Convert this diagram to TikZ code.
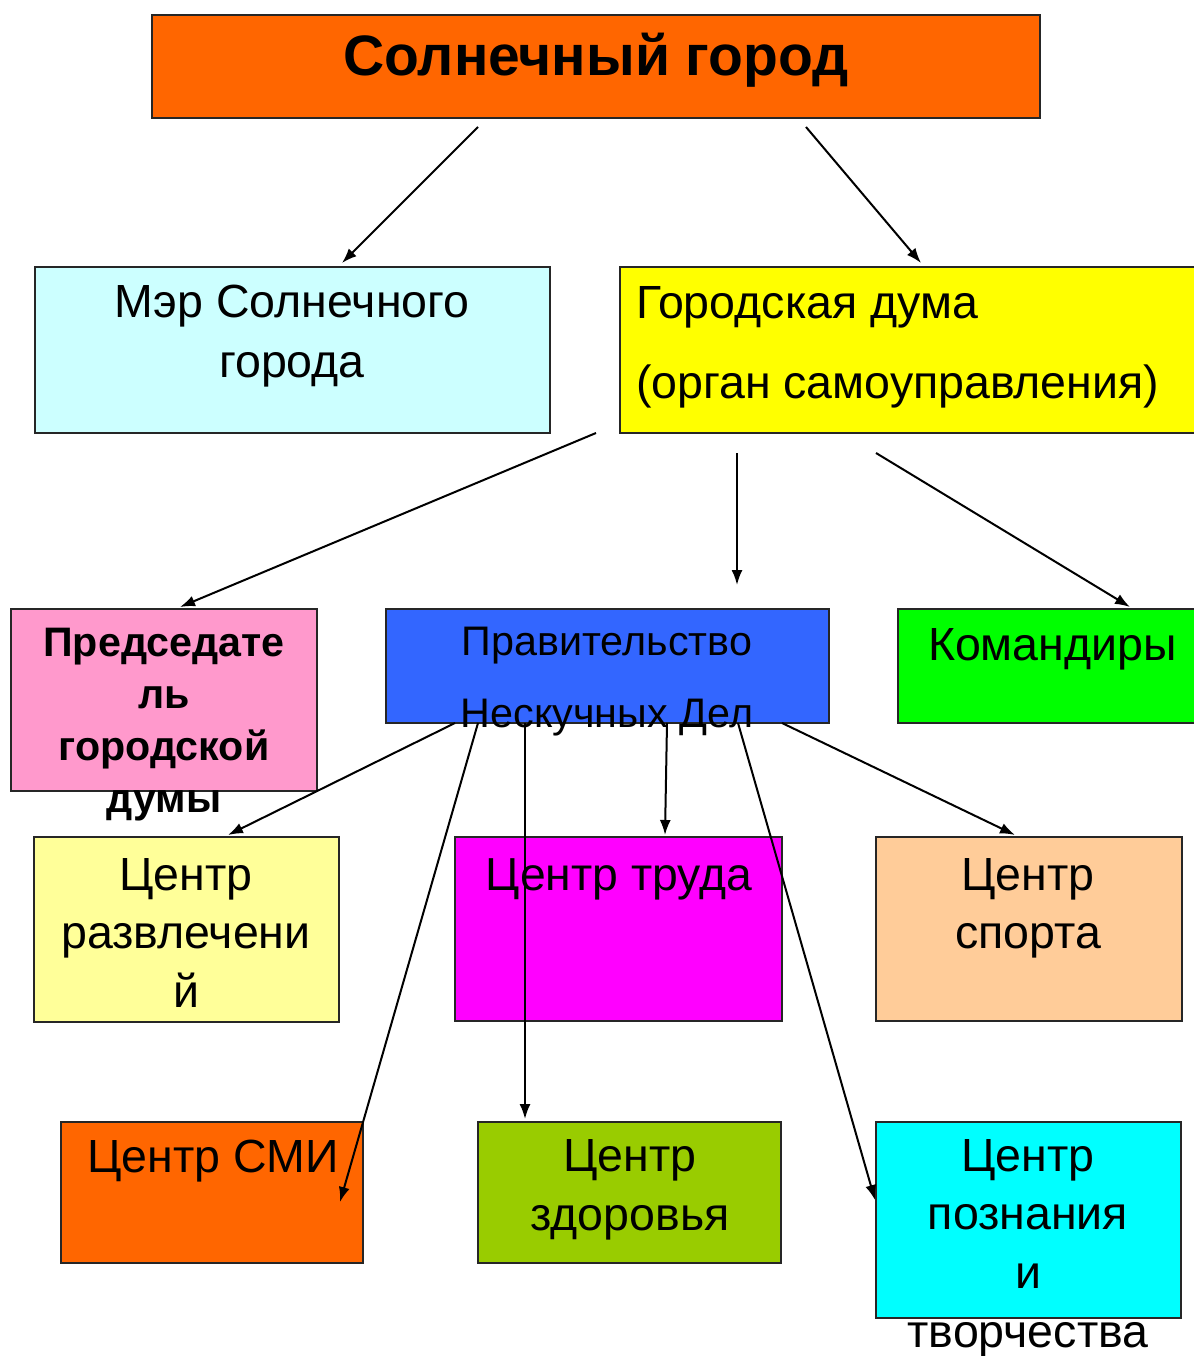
\documentclass[tikz,border=0pt]{standalone}
\usepackage{fontspec}
\setmainfont{Liberation Sans}
\usetikzlibrary{calc,arrows.meta}
\newcommand\mlines[4]{{\fontsize{#1}{#2}\selectfont\begin{tabular}[t]{@{}#3@{}}#4\end{tabular}}}
\definecolor{cTitle}{HTML}{FF6600}
\definecolor{cMayor}{HTML}{CCFFFF}
\definecolor{cDuma}{HTML}{FFFF00}
\definecolor{cPred}{HTML}{FF99CC}
\definecolor{cPrav}{HTML}{3366FF}
\definecolor{cKom}{HTML}{00FF00}
\definecolor{cRazv}{HTML}{FFFF99}
\definecolor{cTrud}{HTML}{FF00FF}
\definecolor{cSport}{HTML}{FFCC99}
\definecolor{cSmi}{HTML}{FF6600}
\definecolor{cZdor}{HTML}{99CC00}
\definecolor{cPozn}{HTML}{00FFFF}
\begin{document}
\begin{tikzpicture}[x=1pt,y=-1pt,
  box/.style={draw=black!85,line width=2.2pt,rectangle,inner sep=0pt,outer sep=0pt,anchor=north west},
  txt/.style={inner sep=0pt,outer sep=0pt,anchor=base},
  txtl/.style={inner sep=0pt,outer sep=0pt,anchor=base west},
  arr/.style={line width=2pt,-{Latex[length=15pt,width=11pt]}}]
\useasboundingbox (0,0) rectangle (1193,1356);
% boxes
\node[box,fill=cTitle,minimum width=888pt,minimum height=103pt] (title) at (152,15) {};
\node[box,fill=cMayor,minimum width=515pt,minimum height=166pt] (mayor) at (35,267) {};
\node[box,fill=cDuma,minimum width=600pt,minimum height=166pt] (duma) at (620,267) {};
\node[box,fill=cPred,minimum width=306pt,minimum height=182pt] (pred) at (11,609) {};
\node[box,fill=cPrav,minimum width=443pt,minimum height=114pt] (prav) at (386,609) {};
\node[box,fill=cKom,minimum width=320pt,minimum height=114pt] (kom) at (898,609) {};
\node[box,fill=cRazv,minimum width=305pt,minimum height=185pt] (razv) at (34,837) {};
\node[box,fill=cTrud,minimum width=327pt,minimum height=184pt] (trud) at (455,837) {};
\node[box,fill=cSport,minimum width=306pt,minimum height=184pt] (sport) at (876,837) {};
\node[box,fill=cSmi,minimum width=302pt,minimum height=141pt] (smi) at (61,1122) {};
\node[box,fill=cZdor,minimum width=303pt,minimum height=141pt] (zdor) at (478,1122) {};
\node[box,fill=cPozn,minimum width=305pt,minimum height=196pt] (pozn) at (876,1122) {};
% texts
\node[txt] (titleT) at (596,76) {\mlines{57}{60}{c}{\bfseries Солнечный город}};
\node[txt] (mayorT) at (292,317) {\mlines{46.5}{60}{c}{Мэр Солнечного\\города}};
\node[txtl] (dumaT) at (636,318) {\mlines{46.5}{80}{l}{Городская дума\\(орган самоуправления)}};
\node[txt] (predT) at (164,656) {\mlines{41.2}{52.3}{c}{\bfseries Председате\\\bfseries ль\\\bfseries городской\\\bfseries думы}};
\node[txt] (pravT) at (607,655) {\mlines{41.3}{72}{c}{Правительство\\Нескучных Дел}};
\node[txtl] (komT) at (928,660) {\mlines{46.5}{60}{l}{Командиры}};
\node[txt] (razvT) at (186,890) {\mlines{46.5}{58.7}{c}{Центр\\развлечени\\й}};
\node[txt] (trudT) at (619,890) {\mlines{46.3}{59}{c}{Центр труда}};
\node[txt] (sportT) at (1028,890) {\mlines{46.5}{58.7}{c}{Центр\\спорта}};
\node[txt] (smiT) at (213,1172) {\mlines{46.5}{59}{c}{Центр СМИ}};
\node[txt] (zdorT) at (630,1171) {\mlines{46.5}{59}{c}{Центр\\здоровья}};
\node[txt] (poznT) at (1028,1171) {\mlines{46.5}{58.7}{c}{Центр\\познания\\и\\творчества}};
% connectors
\draw[arr] ($(title.south west)+(326,9)$) -- ($(mayor.north west)+(307,-4)$);
\draw[arr] ($(title.south west)+(654,9)$) -- ($(duma.north west)+(301,-4)$);
\draw[arr] ($(duma.south west)+(-24,0)$) -- ($(pred.north west)+(169,-2)$);
\draw[arr] ($(duma.south west)+(117,20)$) -- ($(prav.north west)+(351,-24)$);
\draw[arr] ($(duma.south west)+(256,20)$) -- ($(kom.north west)+(232,-2)$);
\draw[arr] ($(prav.south west)+(69,0)$) -- ($(razv.north west)+(194,-2)$);
\draw[arr] ($(prav.south west)+(92,0)$) -- ($(smi.north west)+(279,80)$);
\draw[arr] ($(prav.south west)+(139,0)$) -- ($(zdor.north west)+(47,-3)$);
\draw[arr] ($(prav.south west)+(281,0)$) -- ($(trud.north west)+(210,-2)$);
\draw[arr] ($(prav.south west)+(352,0)$) -- ($(pozn.north west)+(-1,78)$);
\draw[arr] ($(prav.south west)+(396,0)$) -- ($(sport.north west)+(139,-2)$);
\end{tikzpicture}
\end{document}
